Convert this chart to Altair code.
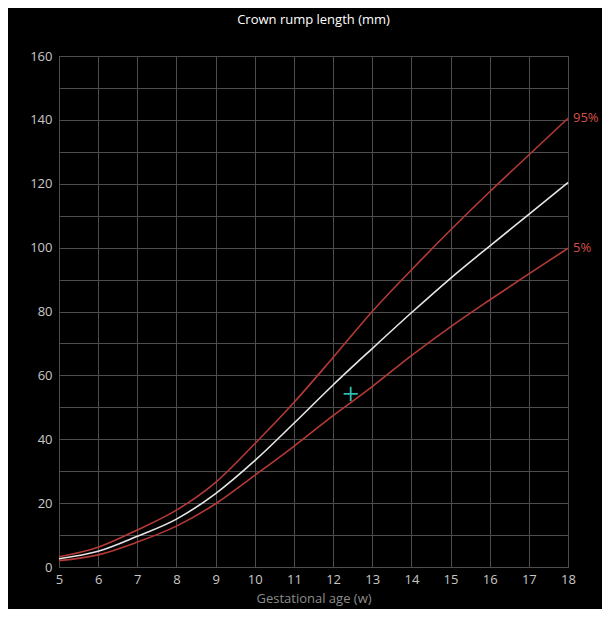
import altair as alt
import pandas as pd

weeks = [5, 6, 7, 8, 9, 10, 11, 12, 13, 14, 15, 16, 17, 18]
p50 = [2.6, 4.9, 9.6, 15.0, 23.0, 33.3, 45.0, 57.0, 68.4, 79.6, 90.4, 100.5, 110.4, 120.4]
p95 = [3.2, 6.2, 11.6, 17.8, 26.5, 38.6, 51.5, 65.6, 80.0, 93.0, 105.5, 117.5, 129.0, 140.5]
p5 = [2.0, 3.8, 7.8, 12.8, 19.8, 28.7, 37.8, 47.4, 56.5, 66.2, 75.2, 83.6, 91.8, 99.8]

label_names = ["95%", "5%"]
label_weeks = [18, 18]
label_values = [140.5, 99.8]

marker_week = [12.45]
marker_crl = [54.2]

y_grid = list(range(0, 161, 10))

RED = "#b53a36"
RED_TXT = "#d6504b"
WHITE = "#e6e6e6"
CYAN = "#2fbfb0"
FONT = "Open Sans"

rows = []
for name, vals in [("5%", p5), ("95%", p95), ("50%", p50)]:
    for w, v in zip(weeks, vals):
        rows.append({"week": w, "crl": v, "series": name})
df = pd.DataFrame(rows)

lab_df = pd.DataFrame({"week": label_weeks, "crl": label_values, "txt": label_names})
mk_df = pd.DataFrame({"week": marker_week, "crl": marker_crl})

x_axis = alt.Axis(
    values=weeks,
    title="Gestational age (w)",
    labelPadding=6,
    titlePadding=6,
    labelOverlap=False,
    labelFlush=False,
    grid=True,
)
y_axis = alt.Axis(
    values=y_grid,
    title=None,
    labelPadding=7,
    labelOverlap=False,
    labelFlush=False,
    grid=True,
    labelExpr="datum.value % 20 == 0 ? datum.label : ''",
)
x_scale = alt.Scale(domain=[5, 18], nice=False, zero=False)
y_scale = alt.Scale(domain=[0, 160], nice=False)


def xe():
    return alt.X("week:Q", scale=x_scale, axis=x_axis)


def ye():
    return alt.Y("crl:Q", scale=y_scale, axis=y_axis)


lines = alt.Chart(df).mark_line(interpolate="monotone", strokeWidth=1.6).encode(
    x=xe(),
    y=ye(),
    color=alt.Color(
        "series:N",
        scale=alt.Scale(domain=["5%", "50%", "95%"], range=[RED, WHITE, RED]),
        legend=None,
    ),
    detail="series:N",
)

labels = alt.Chart(lab_df).mark_text(
    align="left", dx=5, fontSize=13, font=FONT, color=RED_TXT, baseline="middle"
).encode(x=xe(), y=ye(), text="txt:N")

marker = alt.Chart(mk_df).mark_point(
    shape="M-1,0L1,0M0,-1L0,1", size=200, filled=False, stroke=CYAN, strokeWidth=1.8, opacity=1
).encode(x=xe(), y=ye())

chart = (
    alt.layer(lines, labels, marker)
    .properties(
        width=509,
        height=511,
        background="#000000",
        autosize=alt.AutoSizeParams(type="none"),
        padding={"left": 51, "top": 48, "right": 34, "bottom": 42},
        title=alt.TitleParams(
            "Crown rump length (mm)",
            color="#ffffff",
            fontSize=13,
            font=FONT,
            fontWeight="normal",
            anchor="middle",
            offset=23,
        ),
    )
    .configure_view(stroke="#4d4d4d", strokeWidth=1)
    .configure_axis(
        gridColor="#4d4d4d",
        gridWidth=1,
        domain=False,
        ticks=False,
        labelColor="#c8c8c8",
        labelFont=FONT,
        labelFontSize=13,
        titleColor="#8c8c8c",
        titleFont=FONT,
        titleFontSize=13,
        titleFontWeight="normal",
    )
)

chart.save("out.html", embed_options={"renderer": "svg", "actions": False})
